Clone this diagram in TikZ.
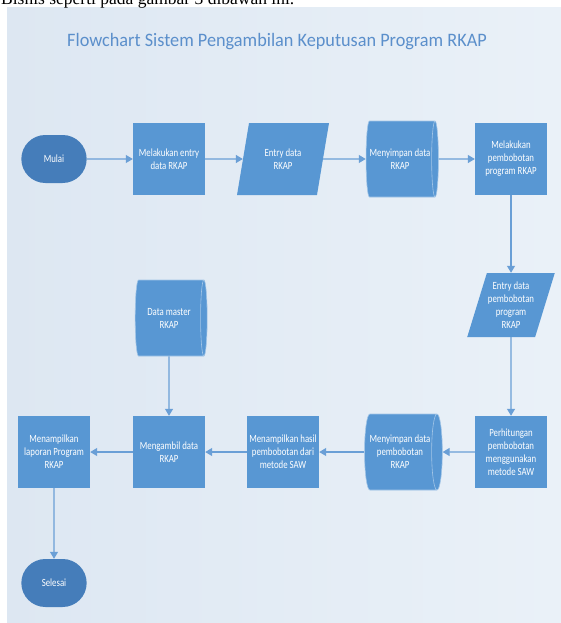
\documentclass[tikz,border=0pt]{standalone}
\usepackage{fontspec}
\setmainfont{Carlito}[FakeStretch=0.8]
\newfontfamily\titlefont{Carlito}[FakeStretch=0.96]
\newfontfamily\docfont{Liberation Serif}
\usetikzlibrary{shapes.geometric, shapes.misc, arrows.meta, positioning}
\definecolor{boxblue}{HTML}{5897D3}
\definecolor{termblue}{HTML}{457DBA}
\definecolor{lineblue}{HTML}{6A9FD6}
\definecolor{titleblue}{HTML}{5B8FCB}
\definecolor{panelA}{HTML}{DDE7F2}
\definecolor{panelB}{HTML}{EAF1F8}

\begin{document}
\begin{tikzpicture}
    [x=1pt, y=-1pt, >={Triangle[length=7pt, width=8pt]}, line/.style={draw=lineblue, line width=1.2pt},
    every node/.style={font=\fontsize{11}{13}\selectfont, text=white, align=center}]
    % Define styles for terminals, processes, data and storage
    \tikzstyle{terminal} = [rounded rectangle, fill=termblue, minimum width=72pt, minimum height=48pt]
    \tikzstyle{process} = [rectangle, fill=boxblue, minimum width=72pt, minimum height=72pt, inner sep=1pt]
    \tikzstyle{io} = [trapezium, trapezium left angle=62, trapezium right angle=118, trapezium stretches body,
    fill=boxblue, minimum width=92pt, minimum height=72pt, inner sep=1pt]
    \tikzstyle{store} = [cylinder, aspect=0.3, fill=boxblue, draw=boxblue!55!white, line width=0.6pt,
    minimum width=76pt, minimum height=72pt, inner sep=1pt]

    \useasboundingbox (0,0) rectangle (561,623);
    % Background panel and texts
    \shade[left color=panelA, right color=panelB] (7,8) rectangle (561,623);
    \node [anchor=base west, text=black, inner sep=0pt, font=\docfont\fontsize{17.5}{20}\selectfont] (doctext) at (1,5)
    {Bisnis seperti pada gambar 3 dibawah ini.};
    \node [text=titleblue, font=\titlefont\fontsize{19}{22}\selectfont] (title) at (277,42)
    {Flowchart Sistem Pengambilan Keputusan Program RKAP};

    % Nodes placement
    \node [terminal] (mulai) at (54,159) {Mulai};
    \node [process, right of=mulai, node distance=115pt] (entry) {Melakukan entry\\data RKAP};
    \node [io, right of=entry, node distance=114pt] (entrydata) {Entry data\\RKAP};
    \node [store, right of=entrydata, node distance=117pt] (simpan) {Menyimpan data\\RKAP};
    \node [process, right of=simpan, node distance=111pt] (bobot) {Melakukan\\pembobotan\\program RKAP};
    \node [io, below of=bobot, node distance=146pt, minimum width=78pt, minimum height=64pt,
    trapezium left angle=68, trapezium right angle=112] (entrybobot) {Entry data\\pembobotan\\program\\RKAP};
    \node [process, below of=entrybobot, node distance=147pt] (hitung) {Perhitungan\\pembobotan\\menggunakan\\metode SAW};
    \node [store, left of=hitung, node distance=111pt] (simpanbobot) {Menyimpan data\\pembobotan\\RKAP};
    \node [process, left of=simpanbobot, node distance=117pt] (hasil) {Menampilkan hasil\\pembobotan dari\\metode SAW};
    \node [process, left of=hasil, node distance=114pt] (ambil) {Mengambil data\\RKAP};
    \node [store, above of=ambil, node distance=134pt] (master) {Data master\\RKAP};
    \node [process, left of=ambil, node distance=115pt] (laporan) {Menampilkan\\laporan Program\\RKAP};
    \node [terminal, below of=laporan, node distance=131pt] (selesai) {Selesai};

    % Draw edges
    \draw[line,->] (mulai) -- (entry);
    \draw[line,->] (entry) -- (entrydata);
    \draw[line,->] (entrydata) -- (simpan);
    \draw[line,->] (simpan) -- (bobot);
    \draw[line,->] (bobot) -- (entrybobot);
    \draw[line,->] (entrybobot) -- (hitung);
    \draw[line,->] (hitung) -- (simpanbobot);
    \draw[line,->] (simpanbobot) -- (hasil);
    \draw[line,->] (hasil) -- (ambil);
    \draw[line,->] (master) -- (ambil);
    \draw[line,->] (ambil) -- (laporan);
    \draw[line,->] (laporan) -- (selesai);
\end{tikzpicture}
\end{document}
